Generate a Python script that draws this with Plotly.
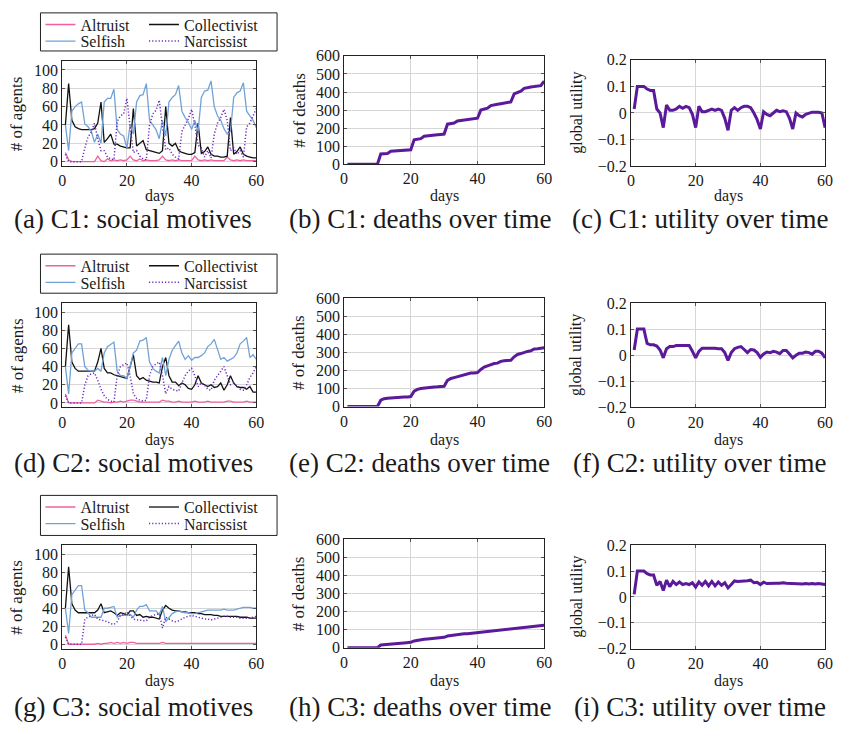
import plotly.graph_objects as go

DAYS = list(range(1, 61))

# ---------- C1 ----------
C1_ALTRUIST = [10, 2, 0, 0, 0, 0, 0, 0, 0, 0, 6, 1, 0, 3, 1, 2, 1, 2, 1, 2,
               6, 2, 1, 3, 1, 2, 1, 1, 1, 2, 6, 2, 1, 2, 1, 2, 1, 1, 1, 1,
               6, 2, 1, 2, 1, 2, 1, 1, 1, 1, 5, 2, 1, 2, 1, 2, 1, 1, 1, 1]
C1_COLLECTIVIST = [40, 85, 45, 38, 36, 35, 35, 35, 35, 36, 42, 65, 21, 25, 30, 19, 19, 17, 16, 15,
                   15, 58, 17, 20, 23, 13, 12, 11, 10, 9, 12, 60, 20, 17, 20, 12, 10, 9, 8, 8,
                   10, 42, 9, 11, 16, 8, 6, 6, 5, 5, 6, 48, 8, 11, 16, 8, 6, 5, 4, 4]
C1_SELFISH = [40, 12, 55, 60, 63, 65, 41, 38, 33, 21, 30, 20, 65, 69, 69, 79, 35, 30, 28, 15,
              40, 30, 65, 72, 73, 85, 45, 40, 35, 25, 45, 28, 65, 70, 73, 83, 55, 48, 43, 35,
              45, 33, 70, 77, 78, 88, 60, 50, 45, 36, 30, 33, 70, 75, 77, 86, 55, 50, 45, 37]
C1_NARCISSIST = [8, 0, 0, 0, 0, 0, 15, 27, 32, 42, 25, 12, 12, 5, 3, 2, 44, 50, 52, 69,
                 38, 10, 12, 6, 3, 2, 40, 52, 56, 67, 38, 13, 15, 8, 5, 3, 33, 40, 47, 57,
                 40, 18, 15, 5, 12, 4, 30, 42, 48, 57, 45, 12, 15, 8, 12, 5, 38, 42, 50, 58]
C1_DEATHS = [0, 0, 0, 0, 0, 0, 0, 0, 0, 0, 57, 57, 60, 72, 73, 74, 75, 77, 78, 80,
             135, 138, 142, 155, 158, 160, 162, 163, 165, 167, 222, 225, 228, 240, 243, 245, 247, 249, 251, 255,
             300, 305, 310, 325, 330, 332, 335, 337, 340, 345, 390, 398, 405, 420, 425, 428, 430, 432, 435, 460]
C1_UTILITY = [0.015, 0.1, 0.1, 0.1, 0.09, 0.085, 0.085, 0.015, 0.0, -0.055,
              0.03, 0.01, 0.01, 0.015, 0.025, 0.018, 0.025, 0.02, -0.005, -0.055,
              0.025, 0.005, 0.005, 0.01, 0.015, 0.01, 0.015, 0.01, -0.02, -0.065,
              0.01, 0.02, 0.01, 0.02, 0.025, 0.025, 0.02, 0.0, -0.025, -0.06,
              0.005, -0.005, -0.01, 0.0, 0.01, 0.005, 0.008, 0.005, -0.02, -0.06,
              0.0, -0.01, -0.015, -0.005, 0.0, 0.003, 0.003, 0.003, 0.0, -0.055]

# ---------- C2 ----------
C2_ALTRUIST = [10, 0, 0, 0, 0, 0, 0, 0, 0, 0, 3, 2, 1, 1, 0, 1, 1, 2, 1, 2,
               3, 3, 2, 1, 1, 1, 1, 1, 1, 1, 3, 2, 2, 1, 1, 2, 1, 1, 1, 1,
               2, 1, 1, 1, 2, 1, 1, 1, 1, 1, 2, 2, 1, 1, 1, 1, 2, 1, 1, 1]
C2_COLLECTIVIST = [40, 86, 45, 38, 35, 35, 35, 35, 35, 35, 45, 60, 38, 33, 33, 31, 30, 29, 28, 27,
                   40, 53, 30, 26, 28, 25, 24, 23, 23, 22, 40, 50, 30, 23, 23, 19, 22, 20, 16, 15,
                   20, 30, 22, 20, 18, 20, 17, 18, 22, 14, 20, 30, 22, 18, 17, 17, 15, 18, 12, 12]
C2_SELFISH = [40, 10, 55, 60, 65, 65, 40, 36, 35, 35, 38, 35, 55, 62, 65, 67, 35, 30, 30, 27,
              40, 55, 58, 68, 69, 72, 45, 38, 35, 33, 50, 30, 48, 58, 63, 68, 55, 48, 52, 47,
              50, 50, 52, 55, 62, 65, 70, 60, 48, 50, 46, 48, 50, 55, 65, 68, 72, 50, 53, 48]
C2_NARCISSIST = [8, 0, 0, 0, 0, 0, 20, 30, 32, 33, 25, 15, 8, 4, 2, 1, 30, 40, 42, 44,
                 30, 10, 5, 3, 2, 3, 30, 40, 43, 45, 30, 10, 18, 15, 14, 13, 22, 30, 35, 38,
                 30, 18, 22, 20, 15, 14, 25, 30, 35, 40, 30, 20, 22, 18, 15, 14, 20, 28, 33, 40]
C2_DEATHS = [0, 0, 0, 0, 0, 0, 0, 0, 0, 0, 35, 43, 46, 48, 49, 50, 51, 52, 53, 55,
             85, 95, 100, 103, 105, 107, 108, 109, 110, 112, 145, 155, 160, 165, 170, 173, 182, 185, 186, 188,
             205, 218, 225, 232, 238, 240, 250, 253, 254, 256, 275, 288, 293, 300, 305, 308, 318, 320, 322, 325]
C2_UTILITY = [0.02, 0.1, 0.1, 0.1, 0.045, 0.04, 0.04, 0.035, 0.02, -0.01,
              0.025, 0.033, 0.033, 0.037, 0.037, 0.037, 0.035, 0.037, 0.015, -0.01,
              0.015, 0.027, 0.027, 0.027, 0.028, 0.027, 0.025, 0.025, 0.01, -0.02,
              0.01, 0.025, 0.03, 0.033, 0.022, 0.01, 0.022, 0.02, 0.01, -0.008,
              0.005, 0.012, 0.01, 0.015, 0.012, 0.006, 0.018, 0.018, 0.005, -0.01,
              0.0, 0.008, 0.008, 0.012, 0.01, 0.004, 0.015, 0.015, 0.008, -0.01]

# ---------- C3 ----------
C3_ALTRUIST = [10, 0, 0, 0, 0, 0, 0, 0, 0, 0, 1, 0, 1, 1, 2, 1, 2, 1, 2, 1,
               2, 2, 1, 1, 1, 1, 1, 1, 1, 1, 2, 1, 1, 1, 1, 1, 1, 1, 1, 1,
               1, 1, 1, 1, 1, 1, 1, 1, 1, 1, 1, 1, 1, 1, 1, 1, 1, 1, 1, 1]
C3_COLLECTIVIST = [40, 86, 45, 38, 35, 35, 35, 35, 35, 35, 38, 45, 35, 36, 37, 35, 32, 35, 34, 32,
                   37, 37, 32, 33, 30, 31, 30, 30, 29, 28, 38, 43, 40, 38, 37, 37, 36, 36, 35, 35,
                   35, 34, 34, 33, 33, 33, 32, 32, 31, 31, 31, 31, 31, 31, 30, 30, 30, 29, 29, 29]
C3_SELFISH = [40, 12, 55, 60, 65, 65, 38, 35, 30, 30, 30, 30, 40, 40, 41, 42, 30, 32, 32, 32,
              33, 30, 38, 42, 42, 44, 37, 37, 37, 33, 42, 25, 30, 34, 36, 37, 36, 35, 35, 34,
              34, 35, 36, 37, 38, 38, 38, 38, 38, 39, 38, 38, 38, 39, 40, 41, 41, 41, 40, 40]
C3_NARCISSIST = [8, 0, 0, 0, 0, 0, 28, 30, 32, 33, 28, 27, 26, 25, 23, 22, 25, 32, 33, 36,
                 32, 28, 27, 27, 26, 26, 30, 32, 33, 34, 18, 30, 28, 26, 25, 26, 28, 30, 31, 32,
                 31, 30, 29, 28, 28, 27, 28, 29, 30, 31, 31, 30, 30, 30, 29, 29, 29, 29, 30, 31]
C3_DEATHS = [0, 0, 0, 0, 0, 0, 0, 0, 0, 0, 15, 16, 18, 21, 23, 24, 25, 27, 29, 30,
             38, 42, 45, 47, 49, 51, 53, 54, 56, 58, 65, 68, 70, 72, 75, 77, 78, 80, 82, 84,
             87, 89, 91, 93, 95, 97, 99, 101, 103, 105, 107, 109, 111, 113, 115, 117, 119, 121, 123, 125]
C3_UTILITY = [0.01, 0.1, 0.1, 0.1, 0.09, 0.085, 0.085, 0.045, 0.06, 0.025,
              0.065, 0.04, 0.06, 0.048, 0.058, 0.048, 0.052, 0.048, 0.055, 0.038,
              0.058, 0.045, 0.06, 0.043, 0.06, 0.043, 0.058, 0.045, 0.055, 0.035,
              0.048, 0.062, 0.06, 0.06, 0.062, 0.063, 0.065, 0.055, 0.057, 0.048,
              0.057, 0.052, 0.053, 0.052, 0.053, 0.053, 0.055, 0.053, 0.052, 0.052,
              0.051, 0.051, 0.05, 0.052, 0.05, 0.052, 0.05, 0.052, 0.05, 0.048]

CAPTIONS = ["(a) C1: social motives", "(b) C1: deaths over time", "(c) C1: utility over time",
            "(d) C2: social motives", "(e) C2: deaths over time", "(f) C2: utility over time",
            "(g) C3: social motives", "(h) C3: deaths over time", "(i) C3: utility over time"]
Y_TITLES = ["# of agents", "# of deaths", "global utility"]
X_TITLE = "days"
SERIES_NAMES = ["Altruist", "Collectivist", "Selfish", "Narcissist"]
UTIL_TICKS = [-0.2, -0.1, 0, 0.1, 0.2]
UTIL_TICKTEXT = ["\u22120.2", "\u22120.1", "0", "0.1", "0.2"]

W, H = 841, 731
FONT = "Liberation Serif"
TXT = "#1a1a1a"
PINK = "#f0609e"
BLUE = "#6fa3d8"
BLACK = "#111111"
PURPLE = "#6b2bbf"
DARKPURPLE = "#5a1a9a"

# plot-area pixel boxes
COLS = [(59, 256), (345, 548), (636, 833)]
ROWS = [[(54, 162), (49, 160), (53, 162)],
        [(302, 409), (297, 408), (302, 409)],
        [(550, 656), (544, 655), (550, 656)]]
YTITLE_X = [13, 299, 581]
XTITLE_Y = [192, 442, 689]
CAPTION_X = [131, 422, 706]
CAPTION_Y = [216, 466, 716]
LEGEND_BOX = [(5, 44), (252, 292), (499, 540)]   # top, bottom of the legend frame
LEGEND_X = (37, 277)
LEGEND_COL_X = [37, 142]
LEGEND_ROW_DY = [12, 29]
# grid slot (row, col) of each legend entry
LEGEND_SLOT = {"Altruist": (0, 0), "Collectivist": (0, 1), "Selfish": (1, 0), "Narcissist": (1, 1)}

fig = go.Figure()

agents = [dict(zip(["Altruist", "Selfish", "Collectivist", "Narcissist"], s)) for s in
          [(C1_ALTRUIST, C1_SELFISH, C1_COLLECTIVIST, C1_NARCISSIST),
           (C2_ALTRUIST, C2_SELFISH, C2_COLLECTIVIST, C2_NARCISSIST),
           (C3_ALTRUIST, C3_SELFISH, C3_COLLECTIVIST, C3_NARCISSIST)]]
deaths = [C1_DEATHS, C2_DEATHS, C3_DEATHS]
utility = [C1_UTILITY, C2_UTILITY, C3_UTILITY]

styles = {"Altruist": dict(color=PINK, width=1.3, dash="solid"),
          "Selfish": dict(color=BLUE, width=1.3, dash="solid"),
          "Collectivist": dict(color=BLACK, width=1.3, dash="solid"),
          "Narcissist": dict(color=PURPLE, width=1.5, dash="1.2px,2px")}

axis_common = dict(showline=True, mirror="ticks", linecolor="#222", linewidth=1,
                   showgrid=True, gridcolor="#d6d6d6", gridwidth=1, zeroline=False,
                   ticks="inside", ticklen=3, tickcolor="#555",
                   tickfont=dict(family=FONT, size=16, color=TXT))


def legend_id(n):
    return "legend" if n == 1 else f"legend{n}"


legends = {}
lid = 0
for r in range(3):
    for c in range(3):
        idx = r * 3 + c + 1
        xa = "x" if idx == 1 else f"x{idx}"
        ya = "y" if idx == 1 else f"y{idx}"
        if c == 0:
            for name in SERIES_NAMES:
                lid += 1
                lr, lc = LEGEND_SLOT[name]
                cy = LEGEND_BOX[r][0] + LEGEND_ROW_DY[lr]
                legends[legend_id(lid)] = dict(
                    orientation="h", xanchor="left", yanchor="middle",
                    x=LEGEND_COL_X[lc] / W, y=1 - cy / H,
                    bgcolor="rgba(0,0,0,0)", borderwidth=0,
                    font=dict(family=FONT, size=16, color=TXT))
                fig.add_trace(go.Scatter(x=DAYS, y=agents[r][name], mode="lines", name=name,
                                         line=styles[name], xaxis=xa, yaxis=ya,
                                         legend=legend_id(lid)))
        elif c == 1:
            fig.add_trace(go.Scatter(x=DAYS, y=deaths[r], mode="lines", showlegend=False,
                                     line=dict(color=DARKPURPLE, width=3), xaxis=xa, yaxis=ya))
        else:
            fig.add_trace(go.Scatter(x=DAYS, y=utility[r], mode="lines", showlegend=False,
                                     line=dict(color=DARKPURPLE, width=3), xaxis=xa, yaxis=ya))

        x0, x1 = COLS[c]
        yt, yb = ROWS[r][c]
        xkey = "xaxis" if idx == 1 else f"xaxis{idx}"
        ykey = "yaxis" if idx == 1 else f"yaxis{idx}"
        xaxis = dict(axis_common, domain=[x0 / W, x1 / W], anchor=ya, range=[0, 60],
                     tickvals=[0, 20, 40, 60])
        if c == 0:
            yaxis = dict(axis_common, domain=[1 - yb / H, 1 - yt / H], anchor=xa, range=[-5, 110],
                         tickvals=[0, 20, 40, 60, 80, 100])
        elif c == 1:
            yaxis = dict(axis_common, domain=[1 - yb / H, 1 - yt / H], anchor=xa, range=[0, 600],
                         tickvals=[0, 100, 200, 300, 400, 500, 600])
        else:
            yaxis = dict(axis_common, domain=[1 - yb / H, 1 - yt / H], anchor=xa, range=[-0.2, 0.2],
                         tickvals=UTIL_TICKS, ticktext=UTIL_TICKTEXT)
        fig.layout[xkey] = xaxis
        fig.layout[ykey] = yaxis

        fig.add_annotation(text=X_TITLE, xref="paper", yref="paper",
                           x=(x0 + x1) / 2 / W, y=1 - XTITLE_Y[r] / H,
                           xanchor="center", yanchor="middle", showarrow=False,
                           font=dict(family=FONT, size=16, color=TXT))
        fig.add_annotation(text=Y_TITLES[c], xref="paper", yref="paper", textangle=-90,
                           x=YTITLE_X[c] / W, y=1 - (yt + yb) / 2 / H,
                           xanchor="center", yanchor="middle", showarrow=False,
                           font=dict(family=FONT, size=17 if c < 2 else 16, color=TXT))
        fig.add_annotation(text=CAPTIONS[idx - 1], xref="paper", yref="paper",
                           x=CAPTION_X[c] / W, y=1 - CAPTION_Y[r] / H,
                           xanchor="center", yanchor="middle", showarrow=False,
                           font=dict(family=FONT, size=27, color=TXT))

for r in range(3):
    top, bot = LEGEND_BOX[r]
    fig.add_shape(type="rect", xref="paper", yref="paper",
                  x0=LEGEND_X[0] / W, x1=LEGEND_X[1] / W, y0=1 - bot / H, y1=1 - top / H,
                  line=dict(color="#222", width=1), fillcolor="rgba(0,0,0,0)", layer="above")

fig.update_layout(
    width=W, height=H, margin=dict(l=0, r=0, t=0, b=0),
    paper_bgcolor="white", plot_bgcolor="white",
    **legends,
)

fig.write_html("out.html", config={"displayModeBar": False},
               post_script="document.body.style.margin='0px';")
